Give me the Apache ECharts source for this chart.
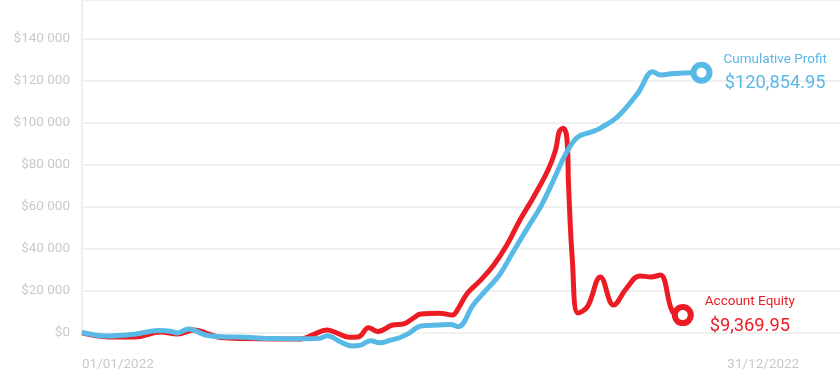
<!DOCTYPE html>
<html>
<head>
<meta charset="utf-8">
<script src="https://cdn.jsdelivr.net/npm/echarts@6/dist/echarts.min.js"></script>
<style>
  html, body { margin: 0; padding: 0; background: #fff; }
  #chart { width: 840px; height: 383px; }
</style>
</head>
<body>
<div id="chart"></div>
<script>
// cumulative profit (blue)
var profitDates = ['2022-01-01','2022-01-15','2022-01-29','2022-02-11','2022-02-17','2022-02-21','2022-02-27','2022-03-08','2022-03-16','2022-03-29','2022-04-13','2022-05-01','2022-05-08','2022-05-12','2022-05-19','2022-05-25','2022-05-30','2022-06-04','2022-06-09','2022-06-15','2022-06-20','2022-06-25','2022-07-01','2022-07-11','2022-07-17','2022-07-21','2022-07-29','2022-08-05','2022-08-12','2022-08-19','2022-08-27','2022-09-03','2022-09-10','2022-09-17','2022-09-23','2022-09-30','2022-10-05','2022-10-14','2022-10-25','2022-11-02','2022-11-06','2022-11-13','2022-11-22','2022-11-28'];
var profitValues = [0,-1700,-800,900,600,-200,1700,-1200,-2000,-2300,-2900,-3000,-2800,-1500,-4400,-6400,-6000,-3900,-4900,-3600,-2400,-200,3100,3600,3800,2800,13100,20300,27400,37900,49800,59900,72800,86100,93300,95600,97500,102800,114200,124400,122800,123500,123900,123900];

// account equity (red)
var equityDates = ['2022-01-01','2022-01-15','2022-01-29','2022-02-12','2022-02-21','2022-03-02','2022-03-09','2022-03-16','2022-03-29','2022-04-13','2022-04-28','2022-05-04','2022-05-12','2022-05-17','2022-05-24','2022-05-29','2022-06-03','2022-06-08','2022-06-16','2022-06-22','2022-06-27','2022-07-01','2022-07-11','2022-07-18','2022-07-20','2022-07-26','2022-08-02','2022-08-09','2022-08-16','2022-08-23','2022-08-30','2022-09-07','2022-09-11','2022-09-13','2022-09-15','2022-09-17','2022-09-18','2022-09-20','2022-09-23','2022-09-28','2022-10-05','2022-10-12','2022-10-19','2022-10-26','2022-11-01','2022-11-06','2022-11-13','2022-11-18'];
var equityValues = [-200,-2100,-2100,200,-700,1200,-500,-2400,-2900,-3100,-3100,-1200,1200,-200,-2300,-2000,2300,500,3600,4100,6900,8800,9200,8300,9900,18800,25000,32200,41700,53700,64200,77500,87000,95800,97400,93300,69400,34600,9300,12200,26500,13100,21200,27000,26500,27400,9300,8300];

var xLabelDates = ['2022-01-01', '2022-12-31'];
var profitLabel = ['Cumulative Profit', '$120,854.95'];
var equityLabel = ['Account Equity', '$9,369.95'];

var BLUE = '#58b9e6';
var RED = '#ec1c24';
var DAY = 86400000;
var START = Date.UTC(2022, 0, 1);

// day number since 01/01/2022
function dayOf(s) {
  var p = s.split('-');
  return Math.round((Date.UTC(+p[0], +p[1] - 1, +p[2]) - START) / DAY);
}
function pad(n) { return n < 10 ? '0' + n : '' + n; }

function toPoints(dates, values, color) {
  return dates.map(function (d, i) {
    var item = { value: [dayOf(d), values[i]] };
    if (i === dates.length - 1) {
      item.symbol = 'circle';
      item.symbolSize = 16;
      item.itemStyle = { color: '#fff', borderColor: color, borderWidth: 6 };
    }
    return item;
  });
}

function endLabel(lines, color) {
  return {
    show: true,
    distance: 22,
    formatter: '{a|' + lines[0] + '}\n{b|' + lines[1] + '}',
    rich: {
      a: { color: color, fontSize: 13.5, align: 'center', lineHeight: 22, fontFamily: 'Roboto' },
      b: { color: color, fontSize: 18.3, align: 'center', lineHeight: 26, fontFamily: 'Roboto' }
    }
  };
}

var myChart = echarts.init(document.getElementById('chart'));
var option = {
  animation: false,
  textStyle: { fontFamily: 'Roboto' },
  grid: { left: 82, right: 0, top: 0, bottom: 50.5 },
  xAxis: {
    type: 'value',
    min: 0,
    max: 405,
    axisLine: { show: false },
    axisTick: { show: false },
    splitLine: { show: false },
    axisLabel: {
      customValues: xLabelDates.map(dayOf),
      margin: 25,
      color: '#c9c9c9',
      fontSize: 13.5,
      alignMinLabel: 'left',
      alignMaxLabel: 'center',
      formatter: function (val) {
        var d = new Date(START + val * DAY);
        return pad(d.getUTCDate()) + '/' + pad(d.getUTCMonth() + 1) + '/' + d.getUTCFullYear();
      }
    }
  },
  yAxis: {
    type: 'value',
    min: 0,
    max: 158600,
    interval: 20000,
    axisLine: { show: true, lineStyle: { color: '#eeeeee', width: 2 } },
    axisTick: { show: false },
    splitLine: { lineStyle: { color: '#f0f0f0', width: 2 } },
    axisLabel: {
      showMaxLabel: false,
      margin: 12,
      color: '#c9c9c9',
      fontSize: 13.5,
      formatter: function (v) {
        return '$' + String(v).replace(/\B(?=(\d{3})+(?!\d))/g, ' ');
      }
    }
  },
  series: [
    {
      name: 'Account Equity',
      type: 'line',
      clip: false,
      smooth: 0.4,
      symbol: 'none',
      showSymbol: true,
      lineStyle: { color: RED, width: 5 },
      itemStyle: { color: RED },
      data: toPoints(equityDates, equityValues, RED),
      endLabel: endLabel(equityLabel, RED)
    },
    {
      name: 'Cumulative Profit',
      type: 'line',
      clip: false,
      smooth: 0.4,
      symbol: 'none',
      showSymbol: true,
      lineStyle: { color: BLUE, width: 5 },
      itemStyle: { color: BLUE },
      data: toPoints(profitDates, profitValues, BLUE),
      endLabel: endLabel(profitLabel, BLUE)
    }
  ]
};
myChart.setOption(option);
</script>
</body>
</html>
